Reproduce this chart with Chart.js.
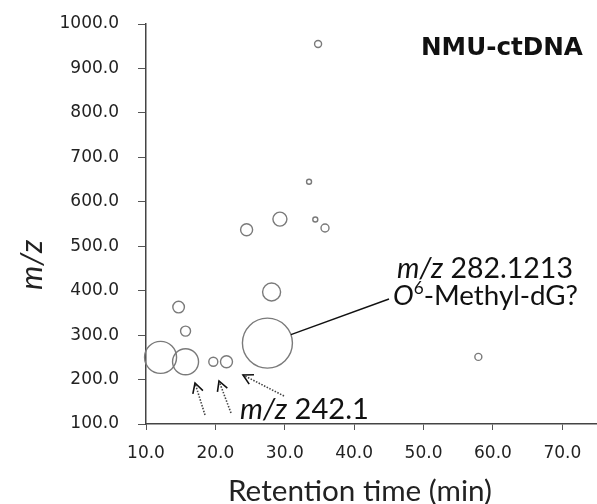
<!DOCTYPE html>
<html><head><meta charset="utf-8">
<script src="https://cdn.jsdelivr.net/npm/chart.js@4.4.0/dist/chart.umd.min.js"></script>
<style>html,body{margin:0;padding:0;background:#fff}#wrap{width:597px;height:504px}</style>
</head><body><div id="wrap"><canvas id="c" width="597" height="504"></canvas></div>
<script>
// Data (retention time in min, m/z, bubble radius in px)
const retentionTimes = [12.1, 14.7, 15.7, 15.7, 19.7, 21.6, 27.5, 28.1, 24.5, 29.3, 33.5, 34.4, 35.8, 34.8, 57.9];
const mzValues       = [250,  363,  309,  240,  240,  240,  282,  397,  537,  561,  645,  560,  541,  955,  251];
const bubbleSizes    = [16,   5.8,  5,    13,   4.5,  6,    25,   9,    6,    7,    2.5,  2.5,  4,    3.5,  3.5];
const xTickValues = [10, 20, 30, 40, 50, 60, 70];
const yTickValues = [100, 200, 300, 400, 500, 600, 700, 800, 900, 1000];
const chartLabel = "NMU-ctDNA";
const xTitle = "Retention time (min)";
const yTitle = "m/z";

const points = retentionTimes.map((x, i) => ({x: x, y: mzValues[i], r: bubbleSizes[i]}));

function fontOf(r, size) {
  const s = r.sup ? size * 0.62 : size;
  return (r.italic ? 'italic ' : '') + (r.bold ? 'bold ' : '') + s.toFixed(2) + 'px ' + (r.family || 'Lato');
}
function drawRuns(ctx, runs, x, yMid, width) {
  const measure = (size) => runs.reduce((w, r) => { ctx.font = fontOf(r, size); return w + ctx.measureText(r.t).width; }, 0);
  const size = 100 * width / measure(100);
  let cx = x;
  ctx.textBaseline = 'middle';
  ctx.textAlign = 'left';
  for (const r of runs) {
    ctx.font = fontOf(r, size);
    ctx.fillText(r.t, cx, r.sup ? yMid - size * 0.28 : yMid);
    cx += ctx.measureText(r.t).width;
  }
}
function arrow(ctx, x1, y1, x2, y2) {
  ctx.save();
  ctx.strokeStyle = '#444';
  ctx.lineWidth = 1.6;
  ctx.setLineDash([1.5, 1.5]);
  ctx.beginPath(); ctx.moveTo(x1, y1); ctx.lineTo(x2, y2); ctx.stroke();
  ctx.setLineDash([]);
  const a = Math.atan2(y2 - y1, x2 - x1), L = 11, h = 0.5;
  ctx.strokeStyle = '#111';
  ctx.lineWidth = 1.6;
  ctx.beginPath();
  ctx.moveTo(x2 - L * Math.cos(a - h), y2 - L * Math.sin(a - h));
  ctx.lineTo(x2, y2);
  ctx.lineTo(x2 - L * Math.cos(a + h), y2 - L * Math.sin(a + h));
  ctx.stroke();
  ctx.restore();
}

const annotations = {
  id: 'annotations',
  afterDraw(chart) {
    const ctx = chart.ctx, xs = chart.scales.x, ys = chart.scales.y;
    const X = v => xs.getPixelForValue(v), Y = v => ys.getPixelForValue(v);
    ctx.save();
    ctx.fillStyle = '#111';
    drawRuns(ctx, [{t: chartLabel, bold: true, family: 'DejaVu Sans'}], 421, 49, 162);
    const cx = X(27.5), cy = Y(282), ex = 389, ey = 299;
    const ang = Math.atan2(ey - cy, ex - cx);
    ctx.strokeStyle = '#111'; ctx.lineWidth = 1.4;
    ctx.beginPath(); ctx.moveTo(cx + 25 * Math.cos(ang), cy + 25 * Math.sin(ang)); ctx.lineTo(ex, ey); ctx.stroke();
    drawRuns(ctx, [{t: 'm/z', italic: true}, {t: ' 282.1213'}], 397, 269, 176);
    drawRuns(ctx, [{t: 'O', italic: true}, {t: '6', sup: true}, {t: '-Methyl-dG?'}], 393, 296, 185);
    drawRuns(ctx, [{t: 'm/z', italic: true}, {t: ' 242.1'}], 240, 410, 129);
    arrow(ctx, 205, 415, 195, 383);
    arrow(ctx, 231, 413, 219, 381);
    arrow(ctx, 284, 396, 243, 375);
    ctx.fillStyle = '#222';
    drawRuns(ctx, [{t: xTitle}], 228, 491, 264);
    ctx.translate(32, 290);
    ctx.rotate(-Math.PI / 2);
    drawRuns(ctx, [{t: yTitle, italic: true}], 0, 0, 50);
    ctx.restore();
  }
};

new Chart(document.getElementById('c'), {
  type: 'bubble',
  data: {
    datasets: [{
      data: points,
      backgroundColor: 'rgba(255,255,255,0)',
      borderColor: '#7a7a7a',
      borderWidth: 1.4,
      hoverBorderWidth: 1.4,
      clip: false
    }]
  },
  options: {
    responsive: false,
    animation: false,
    events: [],
    layout: {autoPadding: false, padding: {top: 24, right: 0, left: 0, bottom: 0}},
    plugins: {legend: {display: false}, tooltip: {enabled: false}},
    scales: {
      x: {
        type: 'linear', min: 10, max: 75,
        afterFit: s => { s.height = 80; s.paddingRight = 0; s.paddingLeft = 0; },
        afterBuildTicks: s => { s.ticks = xTickValues.map(v => ({value: v})); },
        ticks: {callback: v => v.toFixed(1), font: {family: 'DejaVu Sans', size: 17}, color: '#222', padding: 13, maxRotation: 0},
        grid: {drawOnChartArea: false, drawTicks: true, tickLength: 6, color: '#555'},
        border: {display: true, color: '#444', width: 1.5}
      },
      y: {
        type: 'linear', min: 100, max: 1000,
        afterFit: s => { s.width = 146; s.paddingTop = 0; s.paddingBottom = 0; },
        afterBuildTicks: s => { s.ticks = yTickValues.map(v => ({value: v})); },
        ticks: {callback: v => v.toFixed(1), font: {family: 'DejaVu Sans', size: 17}, color: '#222', padding: 19},
        grid: {drawOnChartArea: false, drawTicks: true, tickLength: 8, color: '#555'},
        border: {display: true, color: '#444', width: 1.5}
      }
    }
  },
  plugins: [annotations]
});
</script>
</body></html>
